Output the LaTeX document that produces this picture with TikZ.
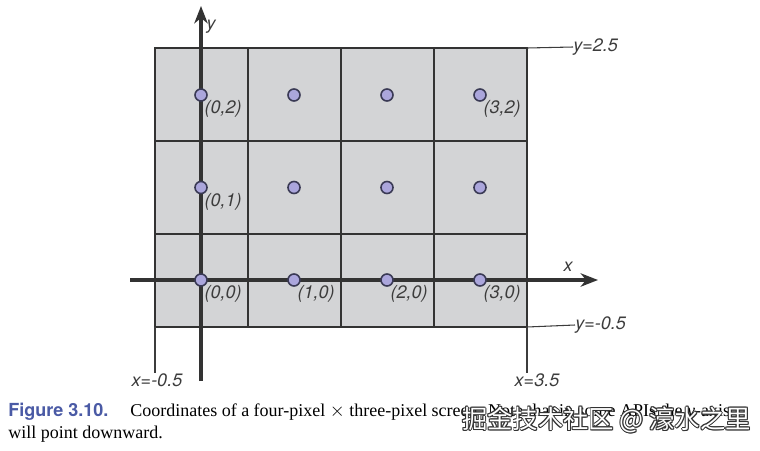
\documentclass[tikz,border=0pt]{standalone}
\usepackage{fontspec}
\setmainfont{Liberation Serif}
\newfontfamily\labelfont{TeX Gyre Heros}
\newfontfamily\cjkfont{Noto Sans CJK SC}
\usetikzlibrary{arrows.meta}
\definecolor{cellgray}{HTML}{D3D4D6}
\definecolor{gridline}{HTML}{333333}
\definecolor{dotfill}{HTML}{ABA6DC}
\definecolor{dotline}{HTML}{3A3A55}
\definecolor{capblue}{HTML}{4A5AA5}
\definecolor{labgray}{HTML}{3C3C3C}
\tikzset{
  cellbox/.style={draw=gridline, line width=1.6pt, fill=cellgray},
  axisline/.style={draw=gridline, line width=2.3pt, -{Stealth[length=13pt,width=10pt,inset=4pt]}},
  axisplain/.style={draw=gridline, line width=2.3pt},
  thinline/.style={draw=labgray, line width=0.8pt},
  pixdot/.style={circle, draw=dotline, line width=1.2pt, fill=dotfill, minimum size=9pt, inner sep=0pt},
  coordlab/.style={font=\labelfont\itshape\fontsize{13.5}{15}\selectfont, text=labgray, inner sep=0pt, anchor=west},
  caption/.style={font=\fontsize{13.5}{16}\selectfont, inner sep=0pt, anchor=base west},
}
\begin{document}
\begin{tikzpicture}[x=0.75pt,y=-0.75pt]
\useasboundingbox (0,0) rectangle (760,450);
% cells
\foreach \i in {0,1,2,3} {
  \foreach \j in {0,1,2} {
    \path[cellbox] (155+93*\i,48+93*\j) rectangle (248+93*\i,141+93*\j);
  }
}
% annotation lines
\coordinate (tr) at (527,48);
\coordinate (br) at (527,327);
\coordinate (bl) at (155,327);
\node[coordlab] (ytop) at (573,47) {y=2.5};
\node[coordlab] (ybot) at (575,325) {y=-0.5};
\node[coordlab, anchor=north] (xleft) at (157,373) {x=-0.5};
\node[coordlab, anchor=north] (xright) at (537,373) {x=3.5};
\draw[thinline] (tr) -- (ytop.west);
\draw[thinline] (br) -- (ybot.west);
\draw[thinline] (bl) -- (bl |- xleft.north);
\draw[thinline] (br) -- (br |- xright.north);
% axes
\coordinate (xs) at (130,280);
\coordinate (xe) at (598,280);
\coordinate (ys) at (201,381);
\coordinate (ye) at (201,6);
\draw[axisline] (xs) -- (xe);
\draw[axisline] (ys) -- (ye);
\node[coordlab, anchor=center] (ylab) at (211,27) {y};
\node[coordlab, anchor=center] (xlab) at (568,267) {x};
% dots
\foreach \i in {0,1,2,3} {
  \foreach \j in {0,1,2} {
    \node[pixdot] (p\i\j) at (201+93*\i,280-92.5*\j) {};
  }
}
\foreach \n/\t in {p02/{(0,2)},p32/{(3,2)},p01/{(0,1)},p00/{(0,0)},p10/{(1,0)},p20/{(2,0)},p30/{(3,0)}} {
  \node[coordlab] at ([xshift=2.5pt,yshift=-10.5pt]\n.center) {\t};
}
% caption
\node[caption, text=capblue, font=\labelfont\bfseries\fontsize{13.5}{16}\selectfont] (fig) at (8,416) {Figure 3.10.};
\node[caption] (cap1) at (130,416) {Coordinates of a four-pixel $\times$ three-pixel screen. Note that in some APIs the \emph{y}-axis};
\node[caption] (cap2) at (8,438) {will point downward.};
% watermark
\foreach \dx/\dy in {-0.7/0,0.7/0,0/-0.7,0/0.7,-0.5/-0.5,0.5/0.5,-0.5/0.5,0.5/-0.5} {
  \node[font=\cjkfont\fontsize{19}{20}\selectfont, text=gridline, inner sep=0pt, anchor=west] at ([xshift=\dx pt,yshift=\dy pt]462,420) {掘金技术社区 @ 濠水之里};
}
\node[font=\cjkfont\fontsize{19}{20}\selectfont, text=white, inner sep=0pt, anchor=west] (wm) at (462,420) {掘金技术社区 @ 濠水之里};
\end{tikzpicture}
\end{document}
